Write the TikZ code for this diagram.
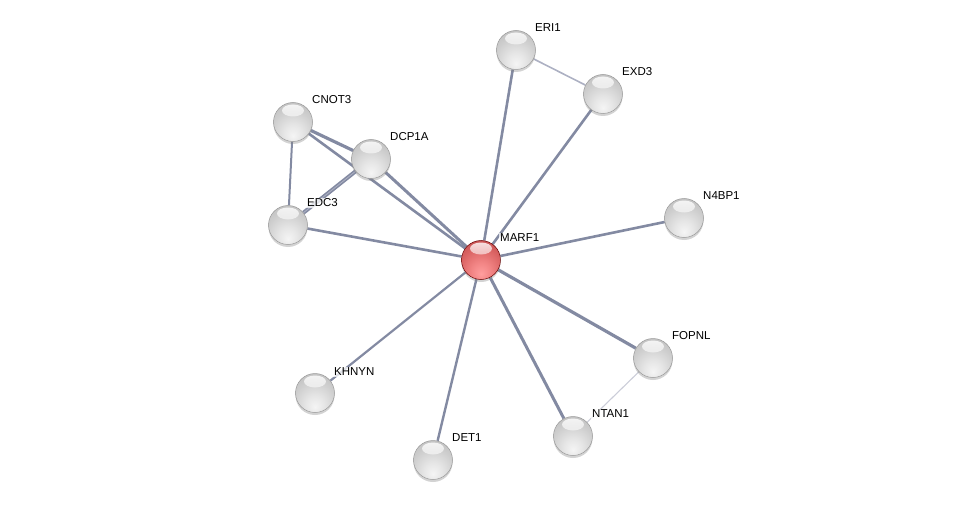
\documentclass[tikz,border=0pt]{standalone}
\usepackage{fontspec}
\setmainfont{Liberation Sans}
\usetikzlibrary{backgrounds,shadows,fadings}
\definecolor{edgecol}{HTML}{838AA2}
\definecolor{edgelight}{HTML}{ADB1C3}
\definecolor{edgefaint}{HTML}{CBCDD8}
\pgfdeclareradialshading{greyball}{\pgfpoint{0bp}{-18bp}}{%
  color(0bp)=(white!96!black); color(12bp)=(white!90!black); color(28bp)=(white!80!black);
  color(40bp)=(white!74!black); color(52bp)=(white!66!black); color(62bp)=(white!50!black); color(80bp)=(white!45!black)}
\pgfdeclareradialshading{redball}{\pgfpoint{0bp}{-18bp}}{%
  color(0bp)=(red!38!white); color(12bp)=(red!45!white!95!black); color(28bp)=(red!55!white!85!black);
  color(40bp)=(red!60!white!75!black); color(52bp)=(red!62!white!62!black); color(62bp)=(red!70!black); color(80bp)=(red!60!black)}
\tikzset{
  prot/.style={circle, minimum size=39pt, inner sep=0pt, shading=greyball,
    draw=black!40, line width=0.5pt,
    drop shadow={shadow xshift=0pt, shadow yshift=-2.5pt, opacity=0.35},
    path picture={\fill[white, opacity=0.85, path fading=south]
      ([yshift=-8pt]path picture bounding box.north) ellipse (11pt and 6pt);}},
  hub/.style={prot, shading=redball, draw=red!40!black},
  lbl/.style={anchor=west, font=\fontsize{11.5}{13}\selectfont, text=black,
    fill=white, fill opacity=0.75, text opacity=1, inner sep=1pt},
  ed/.style={draw=edgecol, line width=2.6pt},
}
\begin{document}
\begin{tikzpicture}[x=1pt, y=-1pt]
\useasboundingbox (0,0) rectangle (976,505);
% nodes
\node[prot] (eri1)  at (516,50)  {};
\node[prot] (exd3)  at (603,94)  {};
\node[prot] (cnot3) at (293,122) {};
\node[prot] (dcp1a) at (371,159) {};
\node[prot] (edc3)  at (288,225) {};
\node[prot] (n4bp1) at (684,218) {};
\node[hub]  (marf1) at (481,260) {};
\node[prot] (fopnl) at (653,358) {};
\node[prot] (khnyn) at (315,393) {};
\node[prot] (ntan1) at (573,436) {};
\node[prot] (det1)  at (433,460) {};
% labels
\node[lbl] (eri1-l)  at (534,28)  {ERI1};
\node[lbl] (exd3-l)  at (621,72)  {EXD3};
\node[lbl] (cnot3-l) at (311,100) {CNOT3};
\node[lbl] (dcp1a-l) at (389,137) {DCP1A};
\node[lbl] (edc3-l)  at (306,203) {EDC3};
\node[lbl] (n4bp1-l) at (702,196) {N4BP1};
\node[lbl] (marf1-l) at (499,238) {MARF1};
\node[lbl] (fopnl-l) at (671,336) {FOPNL};
\node[lbl] (khnyn-l) at (333,372) {KHNYN};
\node[lbl] (ntan1-l) at (591,414) {NTAN1};
\node[lbl] (det1-l)  at (451,438) {DET1};
% edges
\begin{scope}[on background layer]
\draw[ed] (marf1) -- (eri1);
\draw[ed] (marf1) -- (exd3);
\draw[ed] (marf1) -- (cnot3);
\draw[ed, line width=3pt] (marf1) -- (dcp1a);
\draw[ed] (marf1) -- (edc3);
\draw[ed] (marf1) -- (n4bp1);
\draw[ed, line width=3.2pt] (marf1) -- (fopnl);
\draw[ed, line width=2.2pt] (marf1) -- (khnyn);
\draw[ed, line width=3pt] (marf1) -- (ntan1);
\draw[ed, line width=2.4pt] (marf1) -- (det1);
\draw[ed, line width=3.2pt] (cnot3) -- (dcp1a);
\draw[ed, line width=2pt] (cnot3) -- (edc3);
\draw[ed, line width=1.6pt, double=edgelight, double distance=0.8pt] (dcp1a) -- (edc3);
\draw[draw=edgelight, line width=1.6pt] (eri1) -- (exd3);
\draw[draw=edgefaint, line width=1.1pt] (fopnl) -- (ntan1);
\end{scope}
\end{tikzpicture}
\end{document}
